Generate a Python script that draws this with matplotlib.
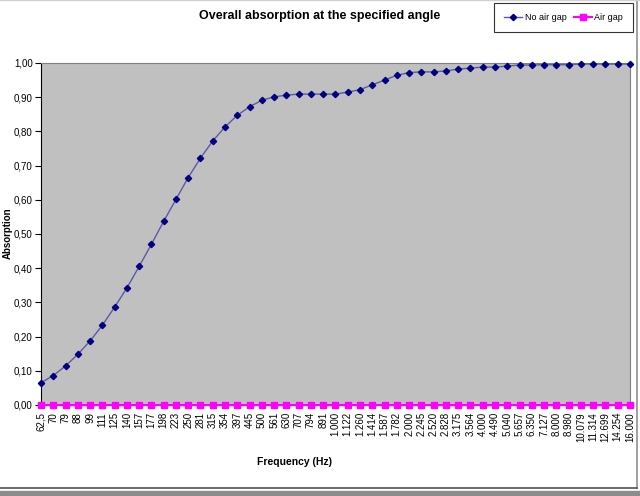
import matplotlib
matplotlib.use('Agg')
import matplotlib.pyplot as plt
from matplotlib.lines import Line2D
from matplotlib.patches import Rectangle

# Bandas de frecuencia (etiquetas tal como aparecen en el eje)
freq_labels = ['62,5', '70', '79', '88', '99', '111', '125', '140', '157', '177',
               '198', '223', '250', '281', '315', '354', '397', '445', '500', '561',
               '630', '707', '794', '891', '1.000', '1.122', '1.260', '1.414', '1.587',
               '1.782', '2.000', '2.245', '2.520', '2.828', '3.175', '3.564', '4.000',
               '4.490', '5.040', '5.657', '6.350', '7.127', '8.000', '8.980', '10.079',
               '11.314', '12.699', '14.254', '16.000']

no_air_gap = [0.065, 0.086, 0.114, 0.148, 0.187, 0.233, 0.286, 0.342, 0.405, 0.470,
              0.537, 0.601, 0.665, 0.722, 0.772, 0.813, 0.847, 0.872, 0.891, 0.901,
              0.906, 0.909, 0.909, 0.909, 0.909, 0.915, 0.922, 0.936, 0.950, 0.964,
              0.972, 0.974, 0.974, 0.977, 0.982, 0.985, 0.988, 0.988, 0.991, 0.994,
              0.994, 0.995, 0.995, 0.995, 0.997, 0.997, 0.997, 0.997, 0.997]

air_gap = [0.0] * len(freq_labels)

y_ticks = [0.0, 0.1, 0.2, 0.3, 0.4, 0.5, 0.6, 0.7, 0.8, 0.9, 1.0]

plt.rcParams['font.family'] = ['Liberation Sans', 'DejaVu Sans']

fig = plt.figure(figsize=(6.4, 4.96), dpi=100)
ax = fig.add_axes([0.064, 0.1835, 0.9203, 0.6895])
ax.set_facecolor('#c0c0c0')

x = list(range(len(freq_labels)))
ax.plot(x, no_air_gap, color='#5a5aa8', lw=1.0, marker='D', ms=3.2,
        mfc='#000080', mec='#000080', clip_on=False, zorder=3, label='No air gap')
ax.plot(x, air_gap, color='#ff00ff', lw=1.5, marker='s', ms=4,
        mfc='#ff00ff', mec='#ff00ff', clip_on=False, zorder=4, label='Air gap')

ax.set_xlim(0, len(freq_labels) - 1)
ax.set_ylim(0, 1)
ax.set_xticks(x)
ax.set_xticklabels(freq_labels, rotation=90, fontsize=7)
ax.tick_params(axis='x', length=0, pad=5)
ax.set_yticks(y_ticks)
ax.set_yticklabels([f'{v:.2f}'.replace('.', ',') for v in y_ticks], fontsize=7)
ax.tick_params(axis='y', length=4, direction='out', pad=2)

for side in ['top', 'right']:
    ax.spines[side].set_color('#808080')
ax.spines['left'].set_color('black')
ax.spines['bottom'].set_color('black')

fig.text(0.5, 0.968, 'Overall absorption at the specified angle',
         ha='center', va='center', fontsize=9, fontweight='bold')
fig.text(0.0125, 0.53, 'Absorption', rotation=90, ha='center', va='center',
         fontsize=7, fontweight='bold')
fig.text(0.46, 0.069, 'Frequency (Hz)', ha='center', va='center',
         fontsize=7.5, fontweight='bold')

leg = fig.legend(loc='upper right', bbox_to_anchor=(0.989, 0.994), ncol=2,
                 fontsize=6.5, frameon=True, fancybox=False, handlelength=2.0,
                 columnspacing=0.8, handletextpad=0.3, borderpad=1.1,
                 borderaxespad=0.0)
leg.get_frame().set_edgecolor('black')
leg.get_frame().set_linewidth(0.8)

# marco del gráfico
fig.add_artist(Line2D([0.995, 0.995], [0.016, 1.0], color='#909090', lw=1.2,
                      transform=fig.transFigure))
fig.add_artist(Line2D([0.0, 0.995], [0.016, 0.016], color='#505050', lw=1.2,
                      transform=fig.transFigure))
fig.add_artist(Line2D([0.0, 1.0], [0.999, 0.999], color='#d0d0d0', lw=1.0,
                      transform=fig.transFigure))
fig.add_artist(Rectangle((0, 0), 1, 0.011, color='#8c8c8c',
                         transform=fig.transFigure))

fig.savefig('out.png', dpi=100)
